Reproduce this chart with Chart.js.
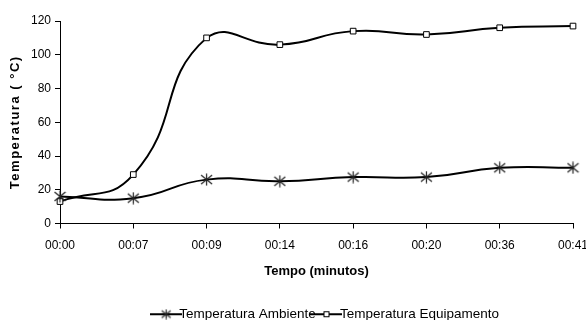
<!DOCTYPE html>
<html>
<head>
<meta charset="utf-8">
<script src="https://cdn.jsdelivr.net/npm/chart.js@4"></script>
<style>
  html, body { margin: 0; padding: 0; background: #fff; }
  #wrap { width: 586px; height: 320px; }
</style>
</head>
<body>
<div id="wrap"><canvas id="my-chart" width="586" height="320"></canvas></div>
<script>
let tempos = ["00:00", "00:07", "00:09", "00:14", "00:16", "00:20", "00:36", "00:41"]
let ambiente = [16, 15, 26, 25, 27.5, 27.5, 33, 33]
let equipamento = [13, 29, 110, 106, 114, 112, 116, 117]
let yTicks = [0, 20, 40, 60, 80, 100, 120]

// asterisk marker like the spreadsheet one (vertical bar + X)
function asterisk(size) {
  const c = document.createElement('canvas');
  c.width = size; c.height = size;
  const g = c.getContext('2d');
  const m = size / 2;
  g.strokeStyle = '#222';
  g.lineWidth = 1.2;
  g.beginPath();
  g.moveTo(m, 0.5); g.lineTo(m, size - 0.5);
  g.moveTo(1, 2); g.lineTo(size - 1, size - 2);
  g.moveTo(size - 1, 2); g.lineTo(1, size - 2);
  g.stroke();
  return c;
}

// legend icon: a short line with the marker in the middle
function legendIcon(style) {
  const c = document.createElement('canvas');
  c.width = 32; c.height = 12;
  const g = c.getContext('2d');
  g.strokeStyle = '#000';
  g.lineWidth = 2;
  g.beginPath(); g.moveTo(0, 6); g.lineTo(32, 6); g.stroke();
  g.lineWidth = 1;
  if (style === 'star') {
    g.drawImage(asterisk(11), 11, 0.5);
  } else {
    g.fillStyle = '#fff';
    g.fillRect(13, 3, 6, 6);
    g.strokeRect(13.5, 3.5, 5, 5);
  }
  return c;
}

// the original legend sits a bit right of center
const shiftLegend = {
  id: 'shiftLegend',
  afterLayout(chart) {
    const lg = chart.legend;
    if (!lg || lg._shifted) return;
    const orig = lg.draw;
    lg.draw = function () {
      const c = this.ctx;
      c.save();
      c.translate(34, 0);
      orig.apply(this, arguments);
      c.restore();
    };
    lg._shifted = true;
  }
};

const font = "'Liberation Sans', Arial, sans-serif";
Chart.defaults.font.family = font;
Chart.defaults.color = '#000';

const ctx = document.getElementById('my-chart').getContext('2d');
new Chart(ctx, {
  type: 'line',
  data: {
    labels: tempos,
    datasets: [
      {
        label: 'Temperatura Ambiente',
        data: ambiente,
        borderColor: '#000',
        backgroundColor: '#000',
        borderWidth: 2,
        tension: 0.5,
        pointStyle: asterisk(13),
        pointRadius: 6
      },
      {
        label: 'Temperatura Equipamento',
        data: equipamento,
        borderColor: '#000',
        backgroundColor: '#fff',
        borderWidth: 2,
        tension: 0.5,
        pointStyle: 'rect',
        pointRadius: 4,
        pointBorderWidth: 1,
        pointBackgroundColor: '#fff',
        pointBorderColor: '#000'
      }
    ]
  },
  plugins: [shiftLegend],
  options: {
    responsive: false,
    animation: false,
    layout: { padding: { top: 21, left: 4, right: 0, bottom: -11 } },
    plugins: {
      tooltip: { enabled: false },
      legend: {
        position: 'bottom',
        labels: {
          font: { size: 13.5 },
          color: '#000',
          boxWidth: 32,
          padding: 4,
          usePointStyle: true,
          generateLabels: chart => chart.data.datasets.map((ds, i) => ({
            text: ds.label,
            pointStyle: legendIcon(i === 0 ? 'star' : 'rect'),
            datasetIndex: i,
            fontColor: '#000',
            lineWidth: 0
          }))
        }
      }
    },
    scales: {
      x: {
        offset: false,
        grid: { drawOnChartArea: false, color: '#000', tickLength: 5 },
        border: { color: '#000', width: 1 },
        ticks: { font: { size: 12 }, color: '#000', maxRotation: 0, autoSkip: false, padding: 10 },
        title: { display: true, text: 'Tempo (minutos)', font: { size: 13, weight: 'bold' }, color: '#000', padding: { top: 8, bottom: 24 } },
        afterFit: s => { s.height = 80; s.paddingRight = 13 }
      },
      y: {
        min: 0,
        max: 120,
        afterBuildTicks: s => { s.ticks = yTicks.map(v => ({ value: v })) },
        grid: { drawOnChartArea: false, color: '#000', tickLength: 5 },
        border: { color: '#000', width: 1 },
        ticks: { font: { size: 12 }, color: '#000', padding: 4 },
        title: { display: true, text: 'Temperatura ( °C)', font: { size: 13, weight: 'bold' }, color: '#000' },
        afterFit: s => {
          s.width = 56;
          if (!s._spaced) {
            // the original axis title is set with wide letter spacing
            const orig = s.drawTitle;
            s.drawTitle = function () {
              this.ctx.save();
              this.ctx.letterSpacing = '1.5px';
              orig.apply(this, arguments);
              this.ctx.restore();
            };
            s._spaced = true;
          }
        }
      }
    }
  }
});
</script>
</body>
</html>
